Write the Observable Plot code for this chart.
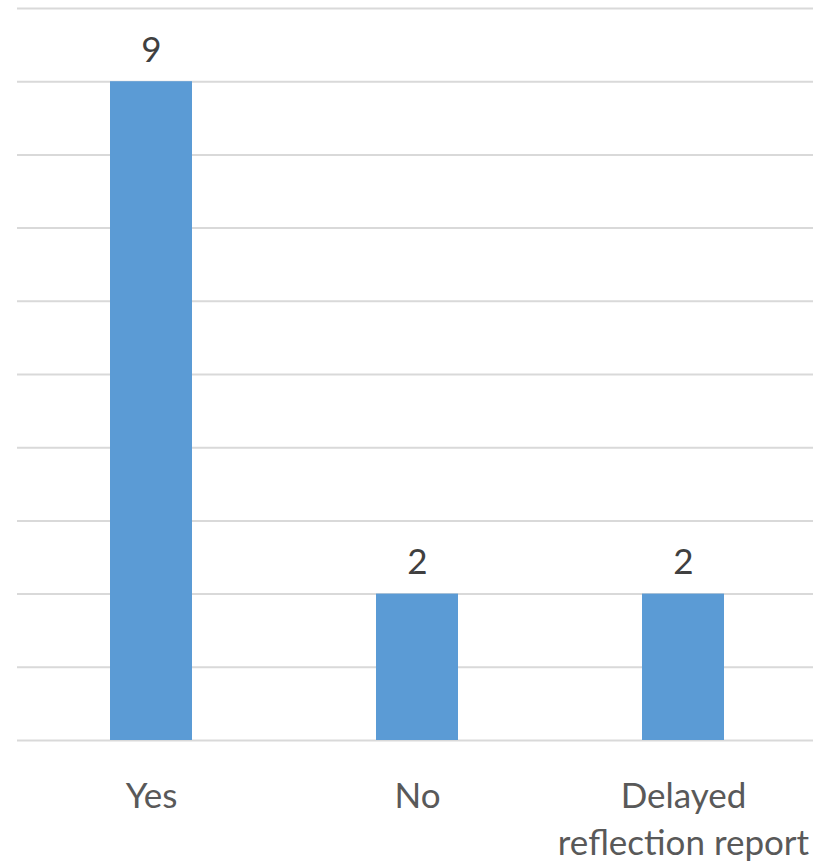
<!DOCTYPE html>
<html>
<head>
<meta charset="utf-8">
<script src="https://cdn.jsdelivr.net/npm/d3@7"></script>
<script src="https://cdn.jsdelivr.net/npm/@observablehq/plot@0.6"></script>
<style>
  html, body { margin: 0; padding: 0; background: #fff; }
  #chart svg { display: block; }
</style>
</head>
<body>
<div id="chart"></div>
<script>
const categories = ["Yes", "No", "Delayed\nreflection report"];
const values = [9, 2, 2];
const yTicks = [0, 1, 2, 3, 4, 5, 6, 7, 8, 9, 10];

const data = categories.map((c, i) => ({category: c, value: values[i]}));

const chart = Plot.plot({
  width: 827,
  height: 863,
  marginLeft: 17,
  marginRight: 10,
  marginTop: 8,
  marginBottom: 123,
  style: {fontFamily: "Lato, 'Open Sans', sans-serif", background: "#fff"},
  x: {domain: categories, paddingInner: 0.69, paddingOuter: 0.345, label: null},
  y: {domain: [0, 10], label: null},
  marks: [
    Plot.ruleY(yTicks, {stroke: "#d9d9d9", strokeWidth: 2, insetRight: 4}),
    Plot.barY(data, {x: "category", y: "value", fill: "#5b9bd5"}),
    Plot.text(data, {x: "category", y: "value", text: d => String(d.value),
      lineAnchor: "bottom", dy: -20, fontSize: 35, fill: "#404040"}),
    Plot.axisX({tickSize: 0, tickPadding: 33, fontSize: 35, lineHeight: 1.37,
      color: "#595959", fill: "#595959", lineAnchor: "top", letterSpacing: "0.5px"}),
    Plot.axisY({ticks: [], label: null, tickSize: 0})
  ]
});
document.getElementById("chart").appendChild(chart);
</script>
</body>
</html>
